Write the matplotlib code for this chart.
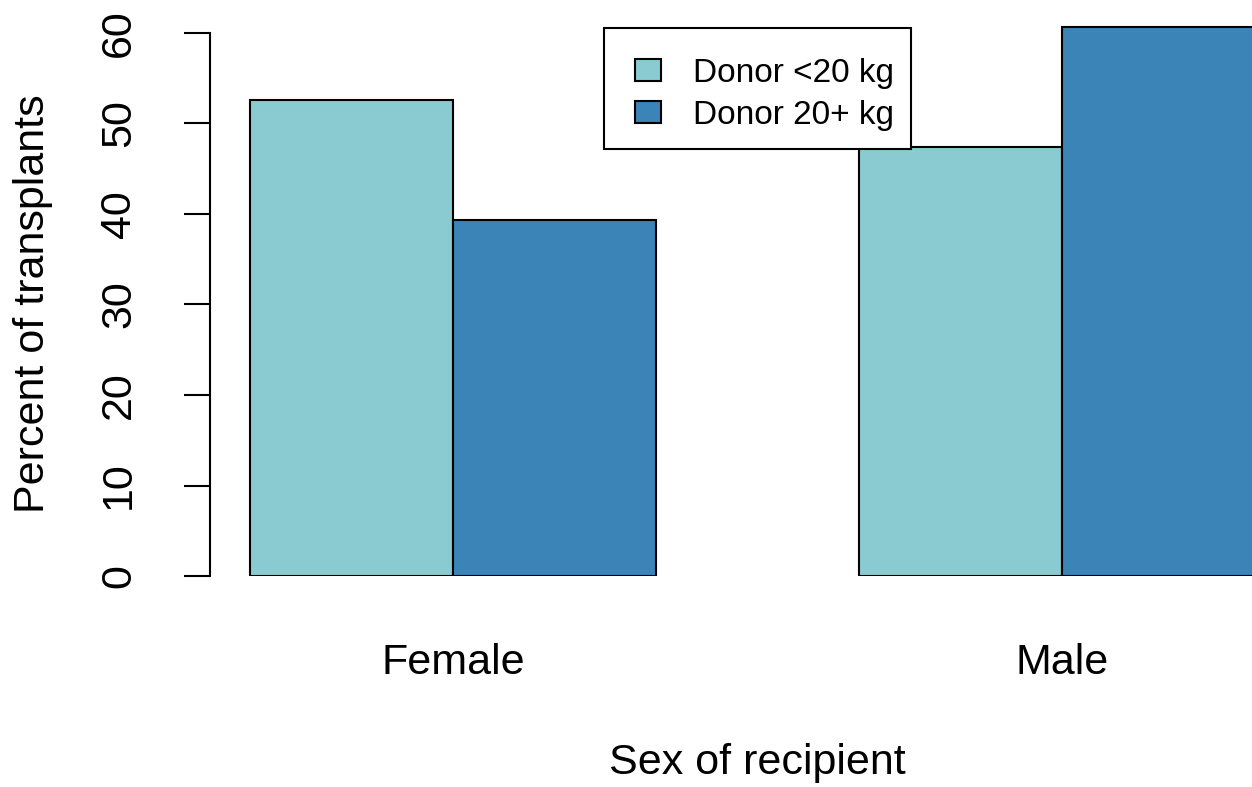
import numpy as np
import matplotlib
matplotlib.use("Agg")
import matplotlib.pyplot as plt
from matplotlib.patches import Rectangle

plt.rcParams['font.family'] = ['Liberation Sans', 'DejaVu Sans']

# donnees (pourcentages)
sexes = ["Female", "Male"]
series = ["Donor <20 kg", "Donor 20+ kg"]
pct_small = [52.6, 47.4]
pct_large = [39.3, 60.7]
couleurs = ["#89CBD1", "#3A84B7"]
yticks = [0, 10, 20, 30, 40, 50, 60]

W, H = 1252, 787
fig = plt.figure(figsize=(W / 100, H / 100), dpi=100)

# axes placee en pixels comme la region de trace de R
ax = fig.add_axes([210 / W, 1 - 576 / H, 1 - 210 / W, 576 / H])

# barres cote a cote, largeur 1, espace 1 entre groupes (barplot beside=TRUE)
centres = np.array([2.0, 5.0])
ax.bar(centres - 0.5, pct_small, width=1, color=couleurs[0], edgecolor="black",
       linewidth=1.5, label=series[0])
ax.bar(centres + 0.5, pct_large, width=1, color=couleurs[1], edgecolor="black",
       linewidth=1.5, label=series[1])

px_unit = 203.0
ax.set_xlim(1 - 40 / px_unit, 1 + 1002 / px_unit)
ax.set_ylim(0, 576 / (543 / 60))

for s in ["top", "right", "bottom"]:
    ax.spines[s].set_visible(False)
ax.spines["left"].set_bounds(0, 60)
ax.spines["left"].set_linewidth(1.5)

ax.set_yticks(yticks)
ax.set_yticklabels([str(v) for v in yticks], rotation=90, va="center", fontsize=31)
ax.tick_params(axis="y", direction="out", length=19, width=1.5, pad=32)

ax.set_xticks(centres)
ax.set_xticklabels(sexes, fontsize=31)
ax.tick_params(axis="x", length=0, pad=48)

fig.text(757 / W, 1 - 763 / H, "Sex of recipient", fontsize=31, ha="center", va="center")
fig.text(33 / W, 1 - 304 / H, "Percent of transplants", fontsize=31, ha="center",
         va="center", rotation=90)

# cadre de la legende (marges gauche/droite differentes comme dans R)
cadre = Rectangle((604 / W, 1 - 149 / H), 307 / W, 121 / H, transform=fig.transFigure,
                  facecolor="white", edgecolor="black", linewidth=1.5, zorder=5)
fig.add_artist(cadre)

handles, labels = ax.get_legend_handles_labels()
leg = fig.legend(handles, labels, loc="upper left", bbox_to_anchor=(635 / W, 1 - 58 / H),
                 borderaxespad=0, borderpad=0, fontsize=24, frameon=False,
                 handlelength=0.78, handleheight=0.63, handletextpad=0.96,
                 labelspacing=0.33)
leg.set_zorder(6)

fig.savefig("out.png", dpi=100)
